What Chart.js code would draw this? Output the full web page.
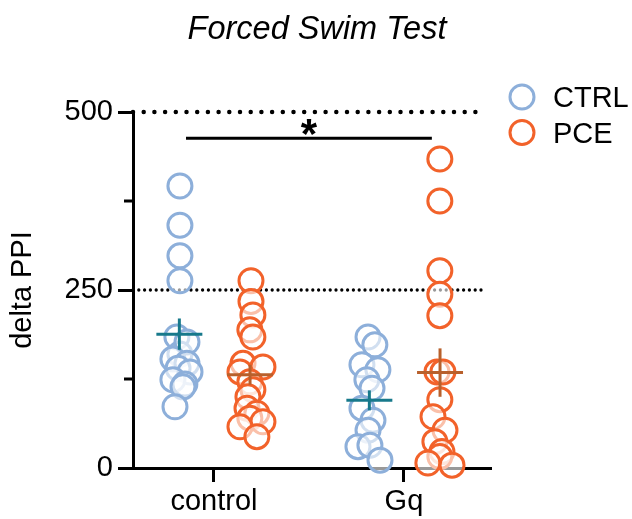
<!DOCTYPE html>
<html>
<head>
<meta charset="utf-8">
<title>Forced Swim Test</title>
<script src="https://cdn.jsdelivr.net/npm/chart.js@4.4.1/dist/chart.umd.min.js"></script>
<style>
  html, body { margin: 0; padding: 0; background: #fff; }
</style>
</head>
<body>
<canvas id="fst" width="632" height="519"></canvas>
<script>
const chartTitle = "Forced Swim Test";
const categories = ["control", "Gq"];
const seriesNames = ["CTRL", "PCE"];
const yTicks = [0, 250, 500];
const yMinorTicks = [125, 375];

// delta PPI per animal; jitter is the horizontal spread (category units)
const controlCtrl = [396, 341, 298, 263, 184, 160, 177, 153, 147, 140, 135, 124, 118, 114, 86];
const controlCtrlJitter = [-0.179, -0.179, -0.179, -0.179, -0.195, -0.179, -0.142, -0.216, -0.142, -0.189, -0.126, -0.216, -0.153, -0.163, -0.205];
const gqCtrl = [184, 173, 145, 138, 124, 112, 84, 67, 53, 30, 32, 11];
const gqCtrlJitter = [-0.189, -0.153, -0.221, -0.137, -0.195, -0.168, -0.221, -0.163, -0.189, -0.242, -0.179, -0.126];
const controlPce = [263, 234, 215, 194, 184, 147, 142, 135, 121, 110, 100, 84, 77, 70, 65, 58, 44];
const controlPceJitter = [0.195, 0.195, 0.205, 0.189, 0.205, 0.153, 0.258, 0.137, 0.189, 0.205, 0.179, 0.174, 0.226, 0.189, 0.258, 0.137, 0.226];
const gqPce = [434, 375, 277, 244, 214, 135, 135, 96, 72, 53, 37, 23, 16, 7, 4];
const gqPceJitter = [0.189, 0.189, 0.189, 0.189, 0.189, 0.174, 0.205, 0.189, 0.153, 0.216, 0.163, 0.2, 0.189, 0.126, 0.253];

// mean +/- SEM crosses
const ctrlMean = [188, 95];
const ctrlSem = [22, 14];
const pceMean = [131, 134];
const pceSem = [14, 34];

const refLines = [500, 250];
const sigLevel = 463;

const FONT = "'Liberation Sans', Arial, Helvetica, sans-serif";
const BLUE = "#8DAFDA";
const ORANGE = "#F2622A";
const TEAL = "#17798B";
const BROWN = "#B8602C";

const groupOffset = { CTRL: -0.182, PCE: 0.19 };
const armHalf = 0.121;

function pts(values, jitter, cat) {
  return values.map((v, i) => ({ x: cat + jitter[i], y: v }));
}

function pointSet(label, data, color) {
  return {
    label, data,
    showLine: false,
    pointRadius: 12,
    pointBorderWidth: 3,
    pointBorderColor: color,
    pointBackgroundColor: "rgba(255,255,255,0.6)",
    clip: false,
    order: 2
  };
}

function lineSet(data, color, width, extra) {
  return Object.assign({
    label: "",
    data,
    showLine: true,
    pointRadius: 0,
    borderColor: color,
    borderWidth: width,
    fill: false,
    clip: false,
    order: 1
  }, extra || {});
}

const datasets = [
  pointSet("CTRL", pts(controlCtrl, controlCtrlJitter, 1).concat(pts(gqCtrl, gqCtrlJitter, 2)), BLUE),
  pointSet("PCE", pts(controlPce, controlPceJitter, 1).concat(pts(gqPce, gqPceJitter, 2)), ORANGE)
];

[[ctrlMean, ctrlSem, groupOffset.CTRL, TEAL], [pceMean, pceSem, groupOffset.PCE, BROWN]].forEach(([m, s, off, col]) => {
  m.forEach((mean, i) => {
    const cx = i + 1 + off;
    datasets.push(lineSet([{ x: cx - armHalf, y: mean }, { x: cx + armHalf, y: mean }], col, 3, { order: 0 }));
    datasets.push(lineSet([{ x: cx, y: mean - s[i] }, { x: cx, y: mean + s[i] }], col, 3, { order: 0 }));
  });
});

// dotted reference lines
datasets.push(lineSet([{ x: 0.574, y: refLines[0] }, { x: 2.416, y: refLines[0] }], "#000", 4.5,
  { borderDash: [0, 10.7], borderCapStyle: "round", order: 3 }));
datasets.push(lineSet([{ x: 0.574, y: refLines[1] }, { x: 2.416, y: refLines[1] }], "#000", 3.3,
  { borderDash: [0, 5.8], borderCapStyle: "round", order: 3 }));
// significance bar
datasets.push(lineSet([{ x: 0.853, y: sigLevel }, { x: 2.147, y: sigLevel }], "#000", 3, { order: 3 }));

// writes text so its ink is vertically centred on cy
function fillCentered(ctx, text, x, cy) {
  const m = ctx.measureText(text);
  ctx.fillText(text, x, cy + (m.actualBoundingBoxAscent - m.actualBoundingBoxDescent) / 2);
}

const extras = {
  id: "extras",
  afterDraw(chart) {
    const { ctx, scales: { x, y }, chartArea } = chart;
    ctx.save();
    ctx.textBaseline = "alphabetic";
    // title
    ctx.fillStyle = "#000";
    ctx.font = "italic 32.5px " + FONT;
    ctx.textAlign = "center";
    fillCentered(ctx, chartTitle, chart.width / 2 + 1, 27);
    // minor y ticks
    ctx.strokeStyle = "#000";
    ctx.lineWidth = 3;
    yMinorTicks.forEach(v => {
      const py = y.getPixelForValue(v);
      ctx.beginPath();
      ctx.moveTo(chartArea.left - 9, py);
      ctx.lineTo(chartArea.left, py);
      ctx.stroke();
    });
    // asterisk above the significance bar
    ctx.font = "bold 42px " + FONT;
    fillCentered(ctx, "*", x.getPixelForValue(1.5), y.getPixelForValue(sigLevel) - 11);
    // legend
    ctx.font = "29px " + FONT;
    ctx.textAlign = "left";
    [[BLUE, 97], [ORANGE, 132.5]].forEach(([col, ly], i) => {
      ctx.beginPath();
      ctx.arc(chartArea.right + 32, ly, 12, 0, Math.PI * 2);
      ctx.strokeStyle = col;
      ctx.lineWidth = 3;
      ctx.stroke();
      ctx.fillStyle = "#000";
      fillCentered(ctx, seriesNames[i], chartArea.right + 63, ly);
    });
    ctx.restore();
  }
};

new Chart(document.getElementById("fst"), {
  type: "scatter",
  data: { datasets },
  plugins: [extras],
  options: {
    responsive: false,
    animation: false,
    events: [],
    devicePixelRatio: 1,
    layout: { padding: { left: 0, right: 142, top: 112, bottom: 0 } },
    plugins: {
      legend: { display: false },
      tooltip: { enabled: false },
      title: { display: false }
    },
    scales: {
      x: {
        type: "linear",
        min: 0.574,
        max: 2.453,
        afterFit: s => { s.height = 51; },
        afterBuildTicks: s => { s.ticks = categories.map((c, i) => ({ value: i + 1 })); },
        ticks: {
          callback: v => categories[Math.round(v) - 1],
          autoSkip: false,
          maxRotation: 0,
          color: "#000",
          font: { family: FONT, size: 29 },
          padding: 3
        },
        grid: { drawOnChartArea: false, tickLength: 14, color: "#000", lineWidth: 3 },
        border: { color: "#000", width: 3 }
      },
      y: {
        min: 0,
        max: 500,
        afterFit: s => { s.width = 133; },
        afterBuildTicks: s => { s.ticks = yTicks.map(v => ({ value: v })); },
        ticks: { color: "#000", font: { family: FONT, size: 29 }, padding: 5 },
        grid: { drawOnChartArea: false, tickLength: 15, color: "#000", lineWidth: 3 },
        border: { color: "#000", width: 3 },
        title: {
          display: true,
          text: "delta PPI",
          color: "#000",
          font: { family: FONT, size: 29 },
          padding: { top: 6, bottom: 0 }
        }
      }
    }
  }
});
</script>
</body>
</html>
